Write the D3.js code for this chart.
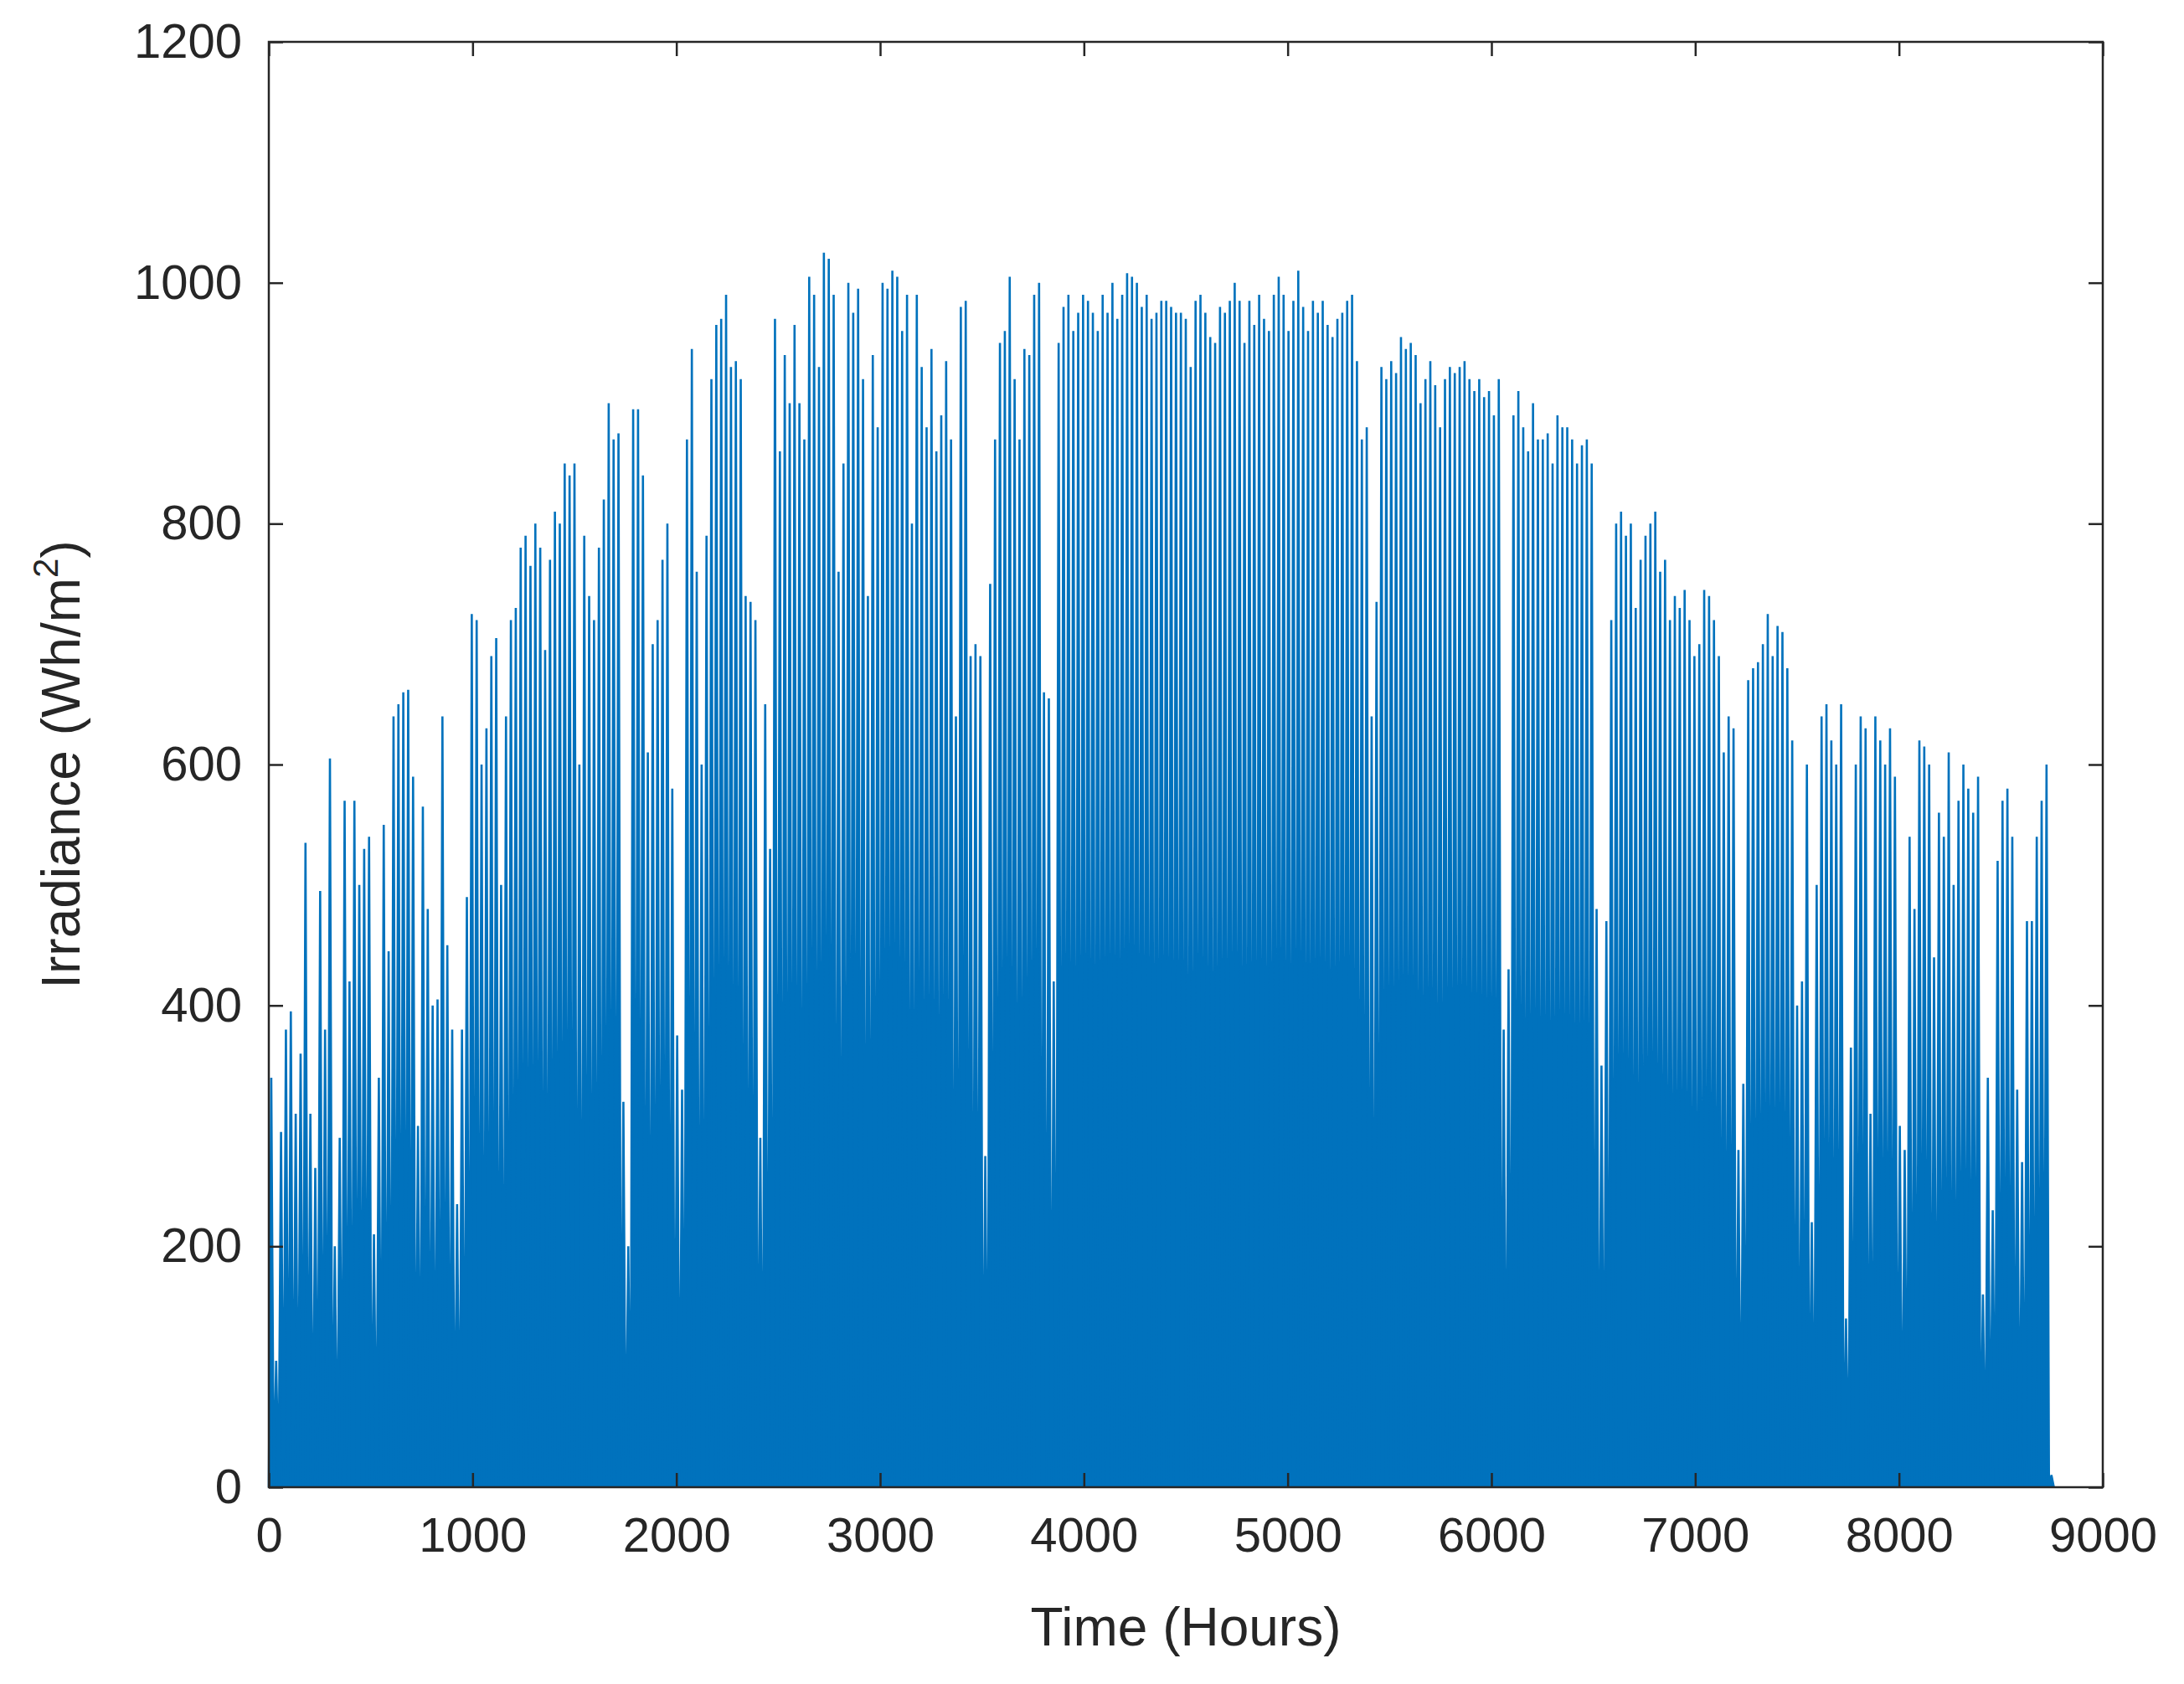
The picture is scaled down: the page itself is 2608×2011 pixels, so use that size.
<!DOCTYPE html>
<html><head><meta charset="utf-8">
<script src="https://cdn.jsdelivr.net/npm/d3@7"></script>
<style>body{margin:0;background:#fff}svg{display:block}text{font-family:"Liberation Sans",Arial,sans-serif;fill:#262626}</style>
</head><body><svg id="c" width="2608" height="2011"></svg>
<script>
// Daily peak irradiance (Wh/m^2), one per day
const dailyPeaks = [
340,105,295,380,395,310,360,535,310,265,
495,380,605,200,290,570,420,570,500,530,
540,210,340,550,445,640,650,660,662,590,
300,565,480,400,405,640,450,380,235,380,
490,725,720,600,630,690,705,500,640,720,
730,780,790,765,800,780,695,770,810,800,
850,840,850,600,790,740,720,780,820,900,
870,875,320,200,895,895,840,610,700,720,
770,800,580,375,330,870,945,760,600,790,
920,965,970,990,930,935,920,740,735,720,
290,650,530,970,860,940,900,965,900,870,
1005,990,930,1025,1020,990,760,850,1000,975,
995,920,740,940,880,1000,995,1010,1005,960,
990,800,990,930,880,945,860,890,935,870,
640,980,985,690,700,690,275,750,870,950,
960,1005,920,870,945,940,990,1000,660,655,
420,950,980,990,960,975,990,985,975,960,
990,975,1000,970,990,1008,1005,1000,980,990,
970,975,985,985,980,975,975,970,930,985,
990,975,955,950,980,975,985,1000,985,950,
985,965,990,970,960,990,1005,990,960,985,
1010,980,960,985,975,985,965,955,970,975,
985,990,935,870,880,640,735,930,920,935,
925,955,945,950,940,900,920,935,915,880,
920,930,925,930,935,920,910,920,905,910,
890,920,380,430,890,910,880,860,900,870,
870,875,850,890,880,880,870,850,865,870,
850,480,350,470,720,800,810,790,800,730,
770,790,800,810,760,770,720,740,730,745,
720,690,700,745,740,720,690,610,640,630,
280,335,670,680,685,700,725,690,715,710,
680,620,400,420,600,220,500,640,650,620,
600,650,140,365,600,640,630,310,640,620,
600,630,590,300,280,540,480,620,615,600,
440,560,540,610,500,570,600,580,560,590,
160,340,230,520,570,580,540,330,270,470,
470,540,570,600,10
];
const xTicks = [0,1000,2000,3000,4000,5000,6000,7000,8000,9000];
const yTicks = [0,200,400,600,800,1000,1200];

const L=321,R=2511,T=50,B=1776;
const svg=d3.select("#c");
const x=d3.scaleLinear().domain([0,9000]).range([L,R]);
const y=d3.scaleLinear().domain([0,1200]).range([B,T]);
const pts=[];
dailyPeaks.forEach((p,d)=>{pts.push([24*d,0],[24*d+12,p]);});
pts.push([24*dailyPeaks.length,0]);
svg.append("path").datum(pts).attr("fill","#0072BD")
  .attr("d",d3.area().x(d=>x(d[0])).y0(y(0)).y1(d=>y(d[1])));
svg.append("path").datum(pts).attr("fill","none").attr("stroke","#0072BD").attr("stroke-width",2.6)
  .attr("d",d3.line().x(d=>x(d[0])).y(d=>y(d[1])));

const fs=58, tl=17, fmt=d3.format("d");
const gb=svg.append("g").attr("transform",`translate(0,${B})`).call(d3.axisBottom(x).tickValues(xTicks).tickFormat(fmt).tickSize(-tl).tickPadding(36));
const gt=svg.append("g").attr("transform",`translate(0,${T})`).call(d3.axisTop(x).tickValues(xTicks).tickSize(-tl).tickFormat(""));
const gl=svg.append("g").attr("transform",`translate(${L},0)`).call(d3.axisLeft(y).tickValues(yTicks).tickFormat(fmt).tickSize(-tl).tickPadding(32));
const gr=svg.append("g").attr("transform",`translate(${R},0)`).call(d3.axisRight(y).tickValues(yTicks).tickSize(-tl).tickFormat(""));
[gb,gt,gl,gr].forEach(g=>{g.select(".domain").remove();g.selectAll("line").attr("stroke","#262626").attr("stroke-width",2.5);
 g.selectAll("text").style("font-size",fs+"px").attr("fill","#3a3a3a").style("font-family","'Liberation Sans',Arial,sans-serif");});
svg.append("rect").attr("x",L).attr("y",T).attr("width",R-L).attr("height",B-T).attr("fill","none").attr("stroke","#262626").attr("stroke-width",2.5);

svg.append("text").attr("x",(L+R)/2).attr("y",1965).attr("text-anchor","middle").style("font-size","64px").attr("fill","#3a3a3a").text("Time (Hours)");
const yl=svg.append("text").attr("transform",`translate(95,${(T+B)/2}) rotate(-90)`).attr("text-anchor","middle").style("font-size","64px").attr("fill","#3a3a3a");
yl.append("tspan").text("Irradiance (Wh/m");
yl.append("tspan").attr("dy",-26).style("font-size","42px").text("2");
yl.append("tspan").attr("dy",26).text(")");
</script></body></html>
